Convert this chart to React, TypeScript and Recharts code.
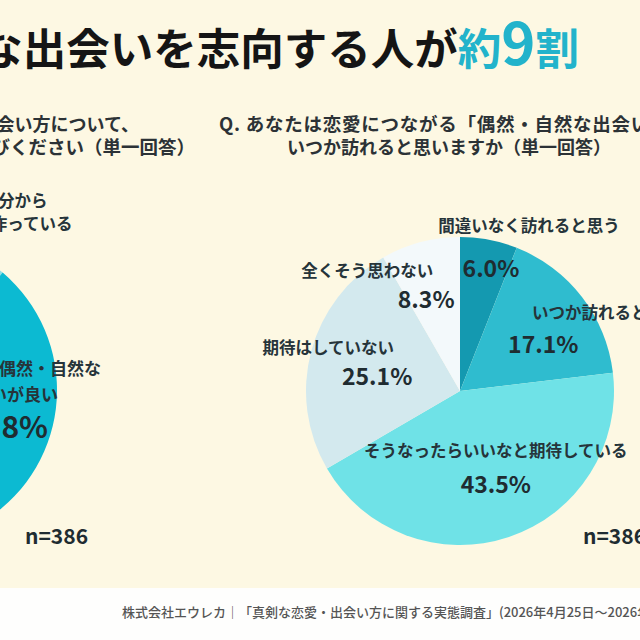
import { PieChart, Pie, Cell } from "recharts";

// Survey answers (n=386), two single-answer questions
const leftCategories = [
  "出会いの場を自分から\n積極的に作っている",
  "恋愛は偶然・自然な\n出会いが良い",
];
const leftValues = [11.2, 88.8];

const rightCategories = [
  "間違いなく訪れると思う",
  "いつか訪れると思う",
  "そうなったらいいなと期待している",
  "期待はしていない",
  "全くそう思わない",
];
const rightValues = [6.0, 17.1, 43.5, 25.1, 8.3];

const sampleSize = 386;

const leftColors = ["#8fdfe9", "#0cbad2"];
const rightColors = ["#1499b0", "#2fbccf", "#6fe2e7", "#d3e9ee", "#f3f9fb"];

const FONT = "'Noto Sans CJK JP', 'Noto Sans', sans-serif";
const TEXT = "#26343a";
const ACCENT = "#22b3cb";

type LabelLayout = {
  rf: number; // fraction of the outer radius for the anchor point
  dx: number;
  dy: number;
  anchor: "start" | "middle" | "end";
  valueSize: number;
  nameSize: number;
  lines: [number, number][]; // name line offsets from the value text
};

const leftLayout: LabelLayout[] = [
  { rf: 0.65, dx: 0, dy: 0, anchor: "end", valueSize: 30, nameSize: 16.5, lines: [[110, -96], [135, -73]] },
  { rf: 0, dx: 145, dy: 35, anchor: "end", valueSize: 30, nameSize: 17, lines: [[53, -58], [10, -32]] },
];

const rightLayout: LabelLayout[] = [
  { rf: 0.83, dx: 7, dy: 2, anchor: "middle", valueSize: 23, nameSize: 16.5, lines: [[38, -42]] },
  { rf: 0.65, dx: 4, dy: 13, anchor: "middle", valueSize: 23, nameSize: 16.5, lines: [[63, -31]] },
  { rf: 0.65, dx: 4, dy: -3, anchor: "middle", valueSize: 23, nameSize: 16.5, lines: [[0, -33]] },
  { rf: 0.55, dx: -1, dy: 6, anchor: "middle", valueSize: 23, nameSize: 16.5, lines: [[-49, -28]] },
  { rf: 0.65, dx: -8, dy: 4, anchor: "middle", valueSize: 23, nameSize: 16.5, lines: [[-59, -28]] },
];

const toRows = (names: string[], values: number[]) =>
  names.map((name, i) => ({ name, value: values[i] }));

const leftData = toRows(leftCategories, leftValues);
const rightData = toRows(rightCategories, rightValues);

const makeLabel = (layout: LabelLayout[]) => (props: any) => {
  const { cx, cy, midAngle, outerRadius, index, name, value } = props;
  const l = layout[index];
  const rad = Math.PI / 180;
  const x = cx + l.rf * outerRadius * Math.cos(-midAngle * rad) + l.dx;
  const y = cy + l.rf * outerRadius * Math.sin(-midAngle * rad) + l.dy;
  const lines = String(name).split("\n");
  return (
    <g>
      {lines.map((t, i) => (
        <text
          key={i}
          x={x + l.lines[i][0]}
          y={y + l.lines[i][1]}
          textAnchor={l.anchor}
          dominantBaseline="central"
          fontFamily={FONT}
          fontSize={l.nameSize}
          fontWeight={700}
          fill={TEXT}
        >
          {t}
        </text>
      ))}
      <text
        x={x}
        y={y}
        textAnchor={l.anchor}
        dominantBaseline="central"
        fontFamily={FONT}
        fontSize={l.valueSize}
        fontWeight={700}
        fill="#1f2c31"
      >
        {`${Number(value).toFixed(1)}%`}
      </text>
    </g>
  );
};

export default function App() {
  return (
    <div
      style={{
        position: "absolute",
        left: 0,
        top: 0,
        width: 640,
        height: 640,
        overflow: "hidden",
        background: "linear-gradient(#fdf8e3 0, #fdf8e3 588px, #fefefd 588px)",
        fontFamily: FONT,
      }}
    >
      <div style={{ position: "absolute", left: 0, top: 0 }}>
        <PieChart width={640} height={640} margin={{ top: 0, right: 0, bottom: 0, left: 0 }}>
          <Pie
            data={leftData}
            dataKey="value"
            nameKey="name"
            cx={-97}
            cy={390}
            outerRadius={154}
            startAngle={90}
            endAngle={-270}
            stroke="none"
            labelLine={false}
            label={makeLabel(leftLayout)}
            isAnimationActive={false}
          >
            {leftData.map((_, i) => (
              <Cell key={i} fill={leftColors[i]} />
            ))}
          </Pie>
          <Pie
            data={rightData}
            dataKey="value"
            nameKey="name"
            cx={460}
            cy={391}
            outerRadius={154}
            startAngle={90}
            endAngle={-270}
            stroke="none"
            labelLine={false}
            label={makeLabel(rightLayout)}
            isAnimationActive={false}
          >
            {rightData.map((_, i) => (
              <Cell key={i} fill={rightColors[i]} />
            ))}
          </Pie>
        </PieChart>
      </div>

      <svg
        width={640}
        height={640}
        style={{ position: "absolute", left: 0, top: 0, pointerEvents: "none" }}
        fontFamily={FONT}
      >
        {/* headline */}
        <text x={579} y={65} textAnchor="end" fontSize={43.5} fontWeight={700} fill="#151515">
          偶然・自然な出会いを志向する人が
          <tspan fill={ACCENT}>約</tspan>
          <tspan fill={ACCENT} fontSize={58}>9</tspan>
          <tspan fill={ACCENT}>割</tspan>
        </text>

        {/* question captions */}
        <g fontWeight={700} fill="#2c3236">
          <text x={139} y={123} fontSize={18} textAnchor="end" dominantBaseline="central">
            Q. あなたが理想とする恋愛の出会い方について、
          </text>
          <text x={195} y={146} fontSize={18.5} textAnchor="end" dominantBaseline="central">
            最も近いものをお選びください（単一回答）
          </text>
          <text x={219} y={123} fontSize={18.5} letterSpacing={0.75} dominantBaseline="central">
            Q. あなたは恋愛につながる「偶然・自然な出会い」が
          </text>
          <text x={287} y={146} fontSize={18} dominantBaseline="central">
            いつか訪れると思いますか（単一回答）
          </text>
        </g>

        {/* sample sizes */}
        <g fontSize={21} fontWeight={700} fill="#1f2c31">
          <text x={25} y={535} dominantBaseline="central">{`n=${sampleSize}`}</text>
          <text x={583} y={535} dominantBaseline="central">{`n=${sampleSize}`}</text>
        </g>

        {/* source */}
        <text x={122} y={611} dominantBaseline="central" fontSize={13} fontWeight={500} fill="#555">
          株式会社エウレカ｜「真剣な恋愛・出会い方に関する実態調査」(2026年4月25日〜2026年4月27日)
        </text>
      </svg>
    </div>
  );
}
